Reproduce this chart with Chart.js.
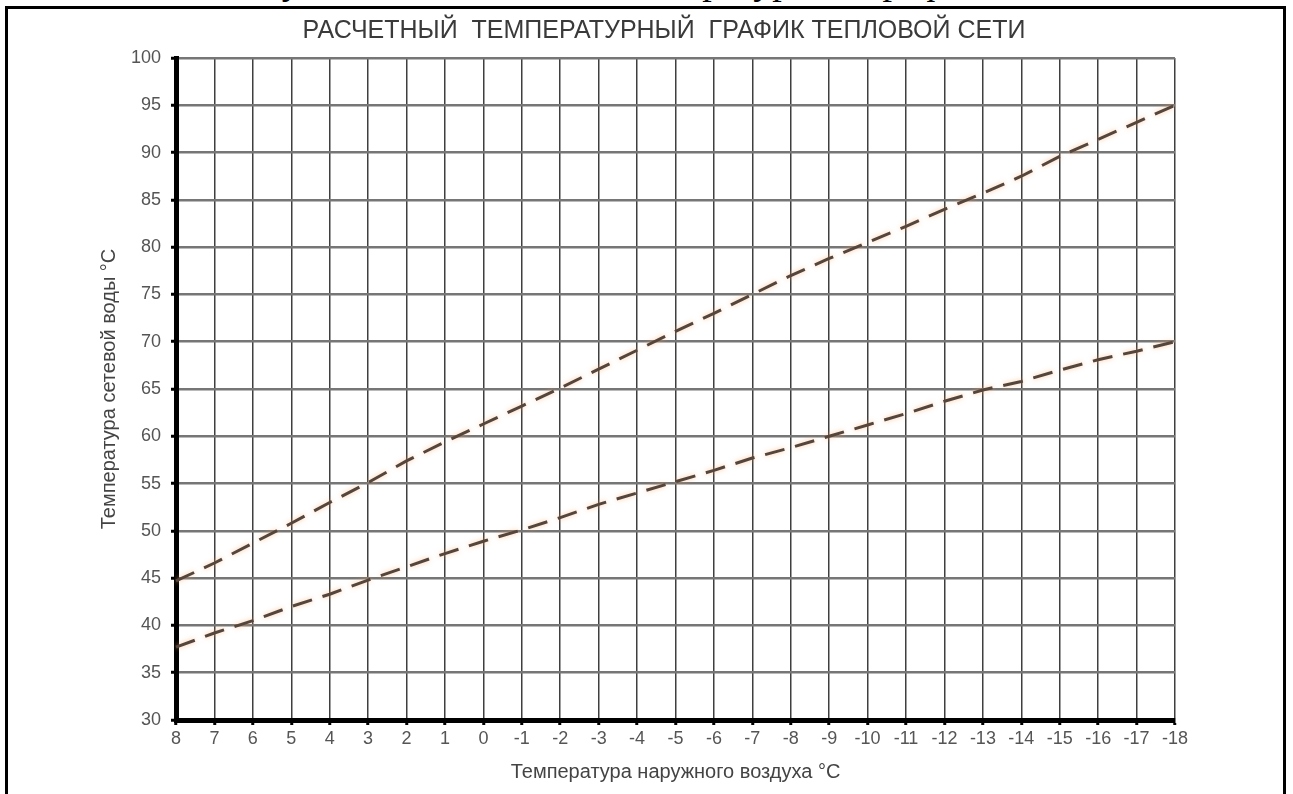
<!DOCTYPE html>
<html lang="ru">
<head>
<meta charset="utf-8">
<title>Расчетный температурный график тепловой сети</title>
<script src="https://cdn.jsdelivr.net/npm/chart.js@4"></script>
<style>
  html, body { margin: 0; padding: 0; background: #fff; overflow: hidden; }
  #caption {
    position: absolute; left: 224px; top: -38px;
    font: 38px/38px "Liberation Serif", "Times New Roman", serif;
    color: #000; white-space: nowrap;
  }
  #frame {
    position: absolute; left: 5px; top: 6px; width: 1275px; height: 900px;
    border: 3px solid #000;
  }
  #chart { position: absolute; left: 0; top: 0; }
</style>
</head>
<body>
<div id="caption">Рисунок 1 – Расчетный температурный график тепловой сети</div>
<div id="frame"></div>
<canvas id="chart" width="1293" height="794"></canvas>
<script>
// наружная температура, °C
const outdoorTemps = ['8', '7', '6', '5', '4', '3', '2', '1', '0', '-1', '-2', '-3', '-4', '-5',
  '-6', '-7', '-8', '-9', '-10', '-11', '-12', '-13', '-14', '-15', '-16', '-17', '-18'];

// подающий трубопровод
const supplyTemps = [44.7, 46.6, 48.7, 50.8, 53.0, 55.1, 57.4, 59.4, 61.3, 63.2, 65.1, 67.1, 69.1, 71.1,
  73.0, 75.0, 77.0, 78.8, 80.5, 82.2, 84.0, 85.7, 87.5, 89.6, 91.4, 93.2, 95.0];

// обратный трубопровод
const returnTemps = [37.7, 39.2, 40.5, 42.0, 43.3, 44.8, 46.2, 47.6, 48.9, 50.1, 51.4, 52.8, 54.0, 55.2,
  56.4, 57.7, 58.8, 60.0, 61.2, 62.4, 63.7, 64.9, 65.8, 67.0, 68.1, 69.0, 70.0];

const yMin = 30;
const yMax = 100;
const yStep = 5;

const chartTitle = 'РАСЧЕТНЫЙ  ТЕМПЕРАТУРНЫЙ  ГРАФИК ТЕПЛОВОЙ СЕТИ';
const xTitle = 'Температура наружного воздуха °C';
const yTitle = 'Температура сетевой воды °C';

const font = '"Liberation Sans", Arial, sans-serif';

// заголовок рисуем сами, чтобы поставить его как на картинке
const titlePlugin = {
  id: 'topTitle',
  afterDraw: (chart) => {
    const ctx = chart.ctx;
    ctx.save();
    ctx.font = '25px ' + font;
    ctx.fillStyle = '#3a3a3a';
    ctx.textAlign = 'center';
    ctx.textBaseline = 'middle';
    ctx.fillText(chartTitle, 664, 31);
    ctx.restore();
  },
};

// лёгкий оранжевый ореол вокруг пунктира
const glowPlugin = {
  id: 'glow',
  beforeDatasetDraw: (chart) => {
    chart.ctx.save();
    chart.ctx.shadowColor = 'rgba(255, 165, 95, 0.6)';
    chart.ctx.shadowBlur = 5;
  },
  afterDatasetDraw: (chart) => {
    chart.ctx.restore();
  },
};

const lineStyle = {
  borderColor: '#54463c',
  borderWidth: 3,
  borderDash: [20, 11],
  pointRadius: 0,
  fill: false,
  tension: 0,
};

const ctx = document.getElementById('chart').getContext('2d');
const myChart = new Chart(ctx, {
  type: 'line',
  data: {
    labels: outdoorTemps,
    datasets: [
      { label: 'Подающий', data: supplyTemps, ...lineStyle },
      { label: 'Обратный', data: returnTemps, ...lineStyle },
    ],
  },
  options: {
    responsive: false,
    animation: false,
    layout: { padding: { left: 0, right: 118, top: 58, bottom: 0 } },
    plugins: {
      legend: { display: false },
      title: { display: false },
      tooltip: { enabled: false },
    },
    scales: {
      x: {
        grid: {
          color: '#3f3f3f',
          lineWidth: 1.5,
          tickColor: '#000',
          tickWidth: 3,
          tickLength: 5,
        },
        border: { color: '#000', width: 5 },
        ticks: {
          color: '#555',
          font: { family: font, size: 18 },
          padding: 3,
          maxRotation: 0,
          autoSkip: false,
        },
        title: {
          display: true,
          text: xTitle,
          color: '#444',
          font: { family: font, size: 20 },
          padding: 10,
        },
        afterFit: (scale) => {
          scale.height = 74;
        },
      },
      y: {
        min: yMin,
        max: yMax,
        grid: {
          color: '#767676',
          lineWidth: 2.5,
          tickColor: '#000',
          tickWidth: 3,
          tickLength: 5,
        },
        border: { color: '#000', width: 5 },
        ticks: {
          stepSize: yStep,
          color: '#555',
          font: { family: font, size: 18 },
          padding: 10,
        },
        title: {
          display: true,
          text: yTitle,
          color: '#444',
          font: { family: font, size: 20 },
          padding: 97,
        },
        afterFit: (scale) => {
          scale.width = 176;
        },
      },
    },
  },
  plugins: [titlePlugin, glowPlugin],
});
</script>
</body>
</html>
